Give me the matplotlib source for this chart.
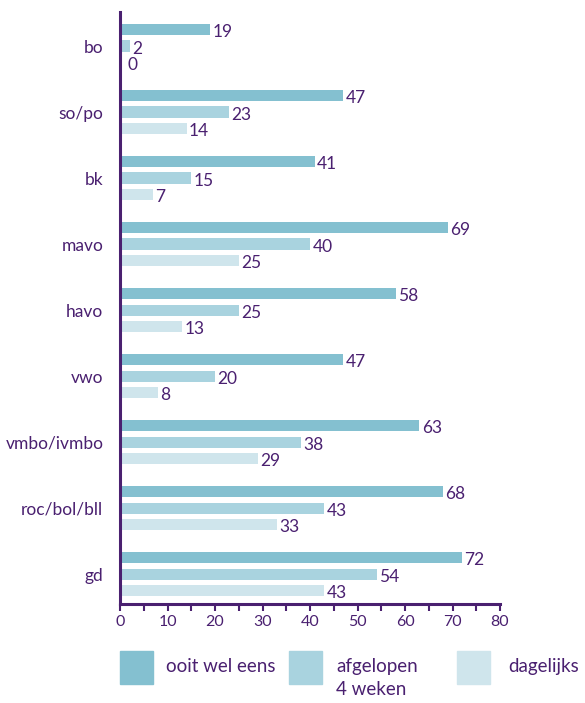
import matplotlib
matplotlib.use("Agg")
import matplotlib.pyplot as plt
import numpy as np
from matplotlib.ticker import MultipleLocator

categories = ["bo", "so/po", "bk", "mavo", "havo", "vwo", "vmbo/ivmbo", "roc/bol/bll", "gd"]
ooit = [19, 47, 41, 69, 58, 47, 63, 68, 72]
afgelopen = [2, 23, 15, 40, 25, 20, 38, 43, 54]
dagelijks = [0, 14, 7, 25, 13, 8, 29, 33, 43]
series_labels = ["ooit wel eens", "afgelopen\n4 weken", "dagelijks"]
x_ticks = [0, 10, 20, 30, 40, 50, 60, 70, 80]

colors = ["#84c0d0", "#a9d3df", "#cfe5ec"]
purple = "#4a2070"
plt.rcParams['font.family'] = ['Lato', 'DejaVu Sans']

fig = plt.figure(figsize=(5.85, 7.03), dpi=100)
ax = fig.add_axes([120/585, 1-604/703, 380/585, 592/703])

y = np.arange(len(categories))
pitch = 0.25
h = 0.17
for k, vals in enumerate([ooit, afgelopen, dagelijks]):
    ypos = y + (k - 1) * pitch
    ax.barh(ypos, vals, height=h, color=colors[k], edgecolor='none', zorder=2)
    for yy, v in zip(ypos, vals):
        ax.text(v + (1.6 if v == 0 else 0.5), yy + 0.04, str(v), va='center', ha='left',
                fontsize=12.5, color=purple)

ax.set_xlim(0, 80)
ax.set_ylim(8.45, -0.515)
ax.set_yticks(y)
ax.set_yticklabels(categories, fontsize=12.5, color=purple)
ax.tick_params(axis='y', length=0, pad=12)
ax.set_xticks(x_ticks)
ax.set_xticklabels([str(t) for t in x_ticks], fontsize=11.5, color=purple)
ax.xaxis.set_minor_locator(MultipleLocator(5))
ax.tick_params(axis='x', which='both', direction='out', length=5, width=1.5, color=purple, pad=3)
for s in ['top', 'right']:
    ax.spines[s].set_visible(False)
for s in ['left', 'bottom']:
    ax.spines[s].set_color(purple)
    ax.spines[s].set_linewidth(2.2)

# legend
from matplotlib.patches import Rectangle
lx = [120, 289, 457]
tx = [166, 336, 508]
for k in range(3):
    fig.patches.append(Rectangle((lx[k]/585, 1-684/703), 33/585, 33/703,
                                 transform=fig.transFigure, color=colors[k]))
    fig.text(tx[k]/585, 1-658/703, series_labels[k], fontsize=13.5, color=purple,
             va='top', ha='left', linespacing=1.4)

fig.savefig("out.png", dpi=100)
